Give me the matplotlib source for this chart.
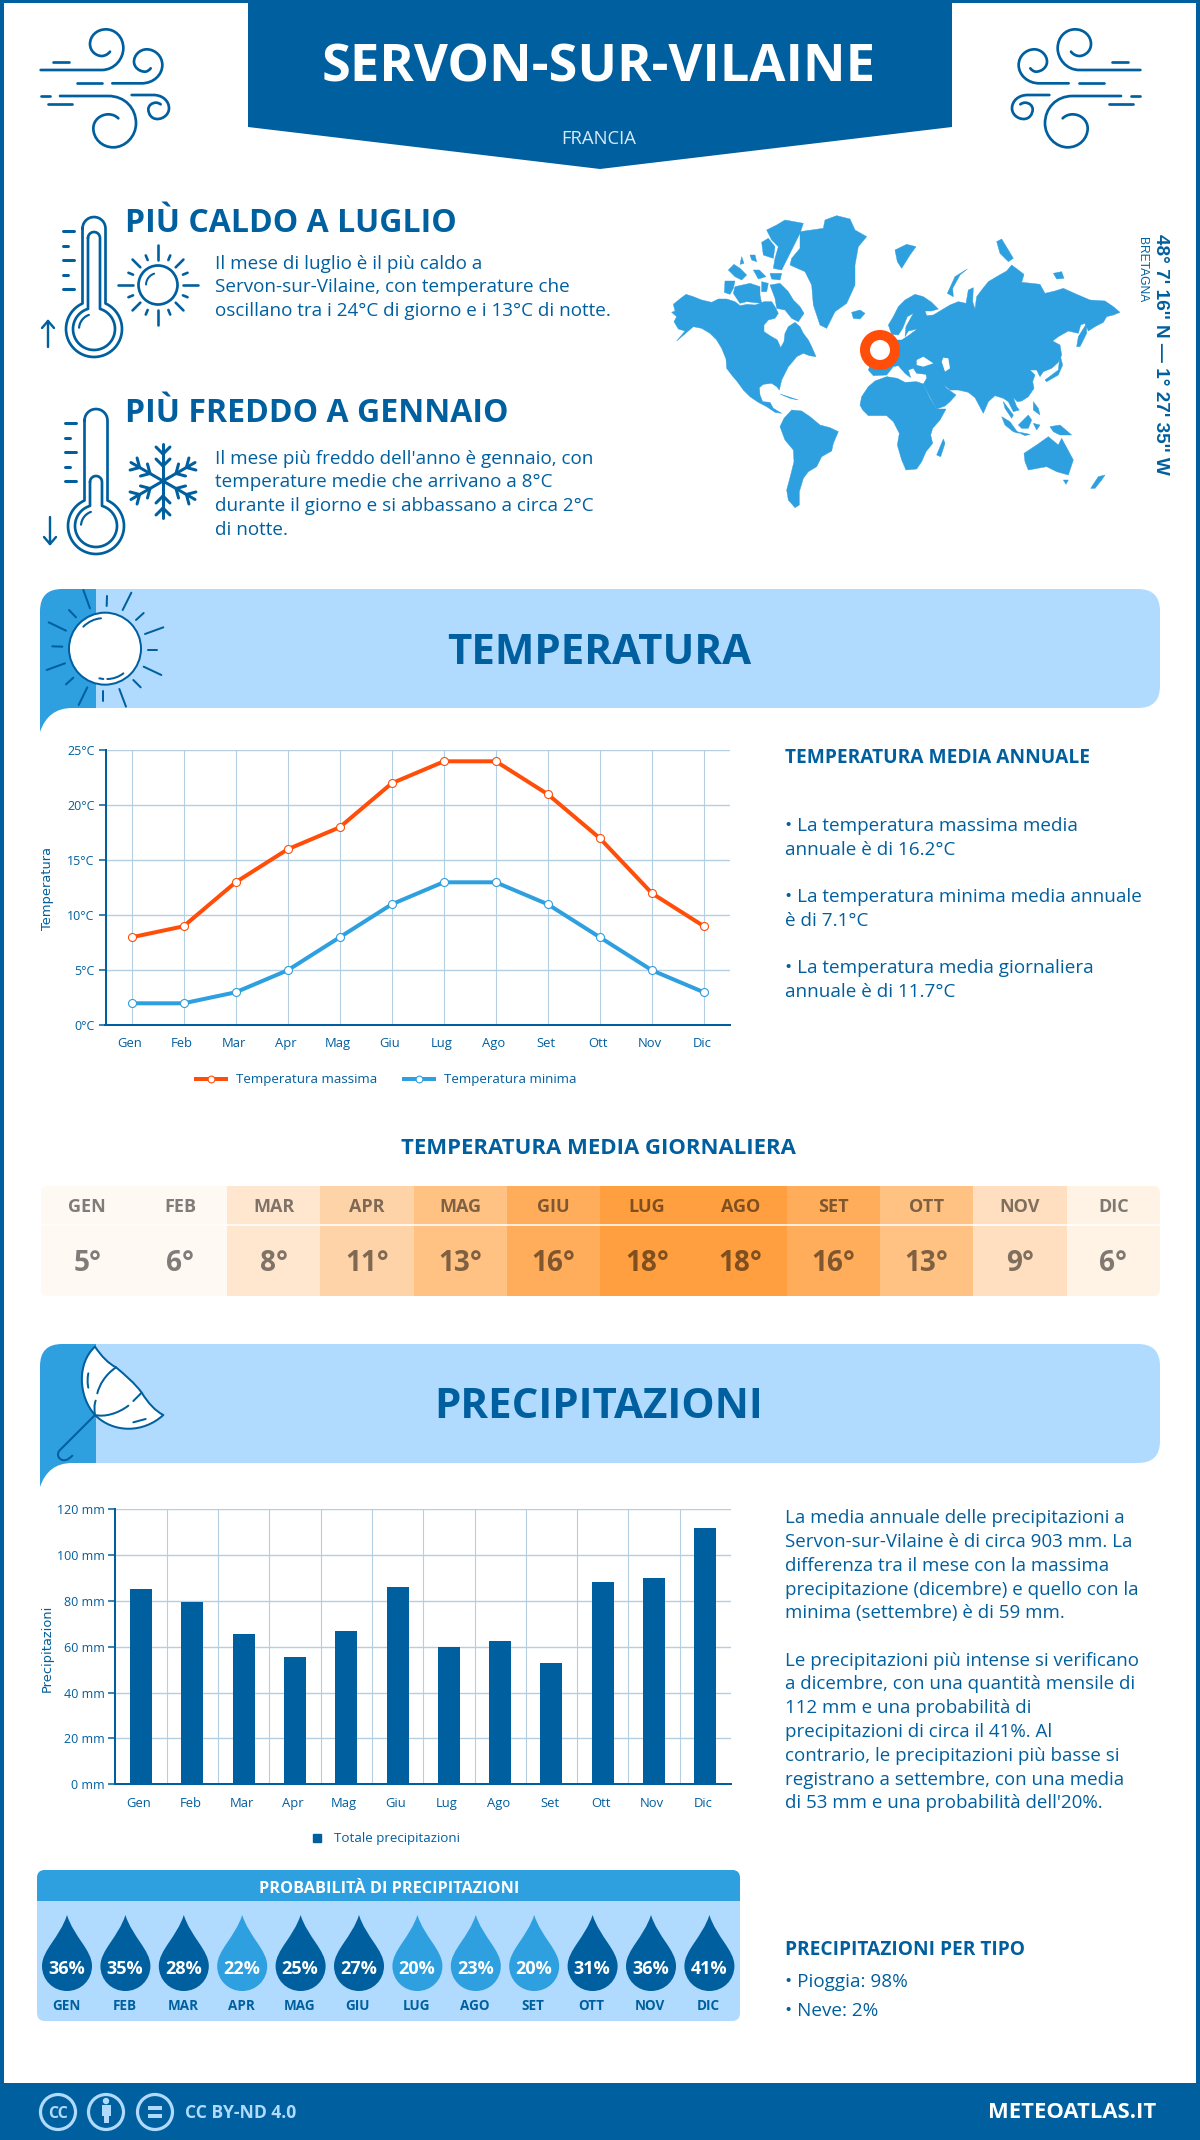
import numpy as np
import matplotlib
matplotlib.use('Agg')
import matplotlib.pyplot as plt
from matplotlib.path import Path
from matplotlib.patches import PathPatch, Rectangle, Circle, FancyBboxPatch, Polygon
from matplotlib.lines import Line2D
from matplotlib.transforms import ScaledTranslation

# ---------- data ----------
months = ['Gen', 'Feb', 'Mar', 'Apr', 'Mag', 'Giu', 'Lug', 'Ago', 'Set', 'Ott', 'Nov', 'Dic']
months_upper = ['GEN', 'FEB', 'MAR', 'APR', 'MAG', 'GIU', 'LUG', 'AGO', 'SET', 'OTT', 'NOV', 'DIC']
temp_max = [8, 9, 13, 16, 18, 22, 24, 24, 21, 17, 12, 9]
temp_min = [2, 2, 3, 5, 8, 11, 13, 13, 11, 8, 5, 3]
temp_avg = [5, 6, 8, 11, 13, 16, 18, 18, 16, 13, 9, 6]
temp_colors = ['#fff9f3', '#fff9f3', '#ffe6cf', '#ffd3a8', '#ffc283', '#ffad5b',
               '#ff9f3f', '#ff9f3f', '#ffad5b', '#ffc283', '#ffdfbf', '#fff3e6']
precip = [85.2, 79.6, 65.6, 55.6, 66.9, 86.1, 60.1, 62.5, 52.9, 88.3, 90.0, 111.9]
prob = [36, 35, 28, 22, 25, 27, 20, 23, 20, 31, 36, 41]
temp_ticks = [0, 5, 10, 15, 20, 25]
precip_ticks = [0, 20, 40, 60, 80, 100, 120]

DARK = '#005f9e'
MID = '#2e9fdf'
LIGHT = '#b0dbff'
ORANGE = '#ff4e0a'
GRID = '#b4cfe2'
FONT = 'Open Sans'
W, H = 1200, 2140

plt.rcParams['font.family'] = [FONT, 'DejaVu Sans']
fig = plt.figure(figsize=(W / 100, H / 100), dpi=100, facecolor='white')
ax0 = fig.add_axes([0, 0, 1, 1])
ax0.set_xlim(0, W)
ax0.set_ylim(H, 0)
ax0.axis('off')


def pt(px):
    return px * 0.72


def T(x, y, s, size, color=DARK, weight='normal', ha='left', va='baseline', ax=None, **kw):
    return (ax or ax0).text(x, y, s, fontsize=pt(size), color=color, fontweight=weight,
                            ha=ha, va=va, **kw)


def stroke(verts, codes=None, lw=2.7, color=DARK, fill='none', z=5):
    p = PathPatch(Path(verts, codes), facecolor=fill, edgecolor=color, lw=pt(lw),
                  capstyle='round', joinstyle='round', zorder=z)
    ax0.add_patch(p)
    return p


def seg(x1, y1, x2, y2, lw=2.7, color=DARK, z=5):
    ax0.plot([x1, x2], [y1, y2], color=color, lw=pt(lw), solid_capstyle='round', zorder=z)


def curve_path(start, curves, fx):
    v = [fx(*start)]
    c = [Path.MOVETO]
    for item in curves:
        if len(item) == 2:
            v.append(fx(*item))
            c.append(Path.LINETO)
        else:
            for i in range(3):
                v.append(fx(*item[i]))
                c.append(Path.CURVE4)
    return v, c


# ---------- frame ----------
ax0.add_patch(Rectangle((0, 0), 4, H, color=DARK, lw=0))
ax0.add_patch(Rectangle((W - 4, 0), 4, H, color=DARK, lw=0))
ax0.add_patch(Rectangle((0, 0), W, 3, color=DARK, lw=0))
ax0.add_patch(Rectangle((0, 2083), W, 57, color=DARK, lw=0))

# ---------- header ----------
ax0.add_patch(Polygon([(248, 0), (952, 0), (952, 127), (600, 169), (248, 127)], closed=True, color=DARK, lw=0))
T(599, 81, 'SERVON-SUR-VILAINE', 52.4, color='white', weight='bold', ha='center')
T(599, 144, 'FRANCIA', 18.5, color='#d6ebfa', ha='center')


def wind(mirror=False):
    if mirror:
        fx = lambda a, b: (1181 - (30 + a / 3), 20 + b / 3)
    else:
        fx = lambda a, b: (30 + a / 3, 20 + b / 3)
    segs = [((70, 125), (118, 125)), ((140, 190), (215, 190)), ((32, 228), (60, 228)), ((55, 253), (125, 253))]
    for a, b in segs:
        seg(*fx(*a), *fx(*b))
    spirals = [
        ((32, 150), [(215, 150), ((255, 150), (280, 115), (280, 85)), ((280, 50), (255, 28), (228, 28)),
                     ((200, 28), (180, 48), (180, 72)), ((180, 95), (200, 108), (215, 108)),
                     ((225, 108), (235, 102), (240, 95))]),
        ((247, 190), [(335, 190), ((370, 190), (397, 165), (397, 135)), ((397, 108), (375, 88), (350, 88)),
                      ((330, 88), (312, 105), (312, 125)), ((312, 142), (328, 155), (345, 155)),
                      ((352, 155), (358, 150), (362, 145))]),
        ((90, 228), [(235, 228), ((285, 228), (318, 265), (318, 310)), ((318, 350), (285, 382), (250, 382)),
                     ((215, 382), (190, 355), (190, 325)), ((190, 300), (212, 283), (235, 283)),
                     ((248, 283), (258, 288), (265, 295))]),
        ((305, 225), [(370, 225), ((398, 225), (417, 243), (417, 265)), ((417, 283), (400, 297), (382, 297)),
                      ((365, 297), (355, 283), (355, 268)), ((355, 257), (365, 248), (378, 248)),
                      ((383, 248), (388, 250), (392, 253))]),
    ]
    for s, cs in spirals:
        v, c = curve_path(s, cs, fx)
        stroke(v, c)


wind(False)
wind(True)


# ---------- thermometers ----------
def thermo(cx, top, by, r, hw, itop, up):
    def outline(t, h, rr):
        arc = np.linspace(0, np.pi, 16)
        cap = np.c_[cx - h * np.cos(arc), t + h - h * np.sin(arc)]
        a0 = np.arcsin(h / rr)
        ang = np.linspace(np.pi / 2 - a0, -3 * np.pi / 2 + a0, 60)
        return np.vstack([cap, np.c_[cx + rr * np.cos(ang), by - rr * np.sin(ang)]])

    pts = outline(top, hw, r)
    stroke(np.vstack([pts, pts[:1]]), lw=2.7)
    pts2 = outline(itop, hw - 5.5, r - 7)
    stroke(np.vstack([pts2, pts2[:1]]), lw=2.7)
    ang = np.linspace(np.radians(110), np.radians(175), 12)
    stroke(np.c_[cx + (r - 13) * np.cos(ang), by - (r - 13) * np.sin(ang)], lw=2.2)
    ty = np.linspace(top + 14, top + 72, 5)
    for i, y in enumerate(ty):
        seg(cx - 31, y, cx - (20 if i % 2 == 0 else 26), y, lw=3)
    ax = cx - 46
    if up:
        seg(ax, 321, ax, 347, lw=2.4)
        seg(ax - 6, 328, ax, 321, lw=2.4)
        seg(ax + 6, 328, ax, 321, lw=2.4)
    else:
        seg(ax, 517, ax, 544, lw=2.4)
        seg(ax - 6, 537, ax, 544, lw=2.4)
        seg(ax + 6, 537, ax, 544, lw=2.4)


thermo(94, 217, 329, 28, 11.5, 232, True)
thermo(96, 409, 526, 28, 11.5, 476, False)

# small sun
sc = (158, 285)
ax0.add_patch(Circle(sc, 19.5, fill=False, ec=DARK, lw=pt(2.7), zorder=5))
stroke(np.c_[sc[0] + 12 * np.cos(np.linspace(1.9, 3.1, 10)), sc[1] - 12 * np.sin(np.linspace(1.9, 3.1, 10))], lw=2)
for k in range(16):
    a = k * np.pi / 8 + np.pi / 2
    r1 = 25 if k % 2 == 0 else 27
    r2 = 40 if k % 4 == 0 else (36 if k % 2 == 0 else 32)
    seg(sc[0] + r1 * np.cos(a), sc[1] - r1 * np.sin(a), sc[0] + r2 * np.cos(a), sc[1] - r2 * np.sin(a), lw=2.6)

# snowflake
fc = (163, 481)
for k in range(6):
    a = k * np.pi / 3 + np.pi / 2
    ux, uy = np.cos(a), -np.sin(a)
    seg(fc[0], fc[1], fc[0] + 37 * ux, fc[1] + 37 * uy, lw=3)
    for d, s in ((15, 9), (27, 9)):
        for sgn in (-1, 1):
            b = a + sgn * np.pi / 4
            seg(fc[0] + d * ux, fc[1] + d * uy, fc[0] + d * ux + s * np.cos(b) * 1.1, fc[1] + d * uy - s * np.sin(b) * 1.1, lw=3)

T(125, 232, 'PIÙ CALDO A LUGLIO', 32, weight='bold')
for y, s in zip([269, 292, 316], ['Il mese di luglio è il più caldo a',
                                  'Servon-sur-Vilaine, con temperature che',
                                  'oscillano tra i 24°C di giorno e i 13°C di notte.']):
    T(215, y, s, 18.85)
T(125, 422, 'PIÙ FREDDO A GENNAIO', 32, weight='bold')
for y, s in zip([464, 487, 511, 535], ["Il mese più freddo dell'anno è gennaio, con",
                                       'temperature medie che arrivano a 8°C',
                                       'durante il giorno e si abbassano a circa 2°C',
                                       'di notte.']):
    T(215, y, s, 18.85)

# ---------- world map (outline sketch) ----------
land = [
    [(35,322),(45,318),(40,298),(62,280),(78,268),(100,275),(125,285),(155,292),(175,282),(200,282),(225,290),(240,302),(262,298),(285,300),(300,295),(312,290),(335,290),(345,305),(355,325),(345,340),(325,345),(312,360),(312,380),(330,392),(352,405),(362,428),(372,410),(375,385),(385,365),(405,352),(420,365),(430,385),(445,405),(455,425),(468,455),(448,452),(430,445),(410,455),(398,470),(385,485),(375,505),(365,525),(358,555),(350,545),(335,535),(310,538),(298,548),(300,570),(308,590),(330,592),(340,610),(365,625),(345,622),(320,605),(295,592),(270,575),(250,555),(232,530),(215,510),(200,490),(198,462),(185,430),(170,405),(150,385),(125,370),(100,365),(85,378),(50,408),(65,390),(75,378),(55,372),(42,350),(50,335)],
    [(330,240),(360,235),(385,260),(400,285),(420,305),(432,325),(415,350),(395,340),(375,315),(350,310),(345,280)],
    [(225,245),(270,235),(300,245),(300,270),(305,295),(260,290),(240,295),(220,265)],
    [(195,228),(225,228),(220,250),(210,268),(193,262)],
    [(205,195),(222,178),(240,190),(260,210),(245,225),(225,215)],
    [(280,195),(298,195),(318,215),(295,222)],
    [(305,230),(325,235),(320,260),(305,260)],
    [(330,205),(365,205),(360,225),(335,222)],
    [(320,75),(350,60),(375,45),(430,55),(420,85),(400,125),(380,165),(365,195),(340,190),(345,160),(355,125),(335,105)],
    [(305,112),(325,100),(345,125),(340,160),(310,150)],
    [(270,150),(285,150),(290,170),(275,165)],
    [(245,155),(252,175),(240,178)],
    [(420,80),(490,70),(495,45),(530,32),(570,42),(585,75),(620,95),(595,125),(585,180),(585,240),(560,295),(525,320),(500,370),(480,360),(460,300),(455,240),(435,200),(390,180),(395,160),(420,130)],
    [(575,322),(600,315),(615,325),(600,342),(580,340)],
    [(705,135),(740,118),(768,125),(750,150),(725,190),(712,170)],
    [(862,265),(885,215),(922,192),(900,210),(878,250),(880,275)],
    [(1010,110),(1025,102),(1045,135),(1060,160),(1045,170),(1020,145)],
    [(1180,205),(1205,200),(1212,220),(1190,222)],
    [(685,360),(700,335),(715,305),(735,285),(765,268),(790,275),(815,292),(835,312),(815,318),(795,318),(800,332),(820,330),(845,315),(870,300),(895,290),(918,295),(925,255),(940,248),(938,290),(945,312),(950,275),(965,255),(985,230),(1010,215),(1040,198),(1055,180),(1075,195),(1092,208),(1085,232),(1115,235),(1140,238),(1155,265),(1185,258),(1210,250),(1250,268),(1290,285),(1335,288),(1360,305),(1380,322),(1360,330),(1340,335),(1330,352),(1305,365),(1285,378),(1275,355),(1262,360),(1255,385),(1225,378),(1195,395),(1178,408),(1200,420),(1205,450),(1195,472),(1175,490),(1150,500),(1140,515),(1130,495),(1110,495),(1125,510),(1118,530),(1122,550),(1105,575),(1085,588),(1072,590),(1060,578),(1070,605),(1078,615),(1060,620),(1045,590),(1030,580),(1005,572),(985,590),(970,625),(962,610),(945,578),(925,562),(895,555),(870,555),(850,538),(860,550),(888,570),(870,590),(855,603),(830,612),(812,580),(790,537),(800,520),(798,508),(770,505),(760,490),(745,495),(752,518),(735,505),(715,482),(700,485),(680,510),(640,512),(625,495),(645,445),(680,405),(725,405),(745,392),(772,372),(745,378),(735,395),(738,365),(760,325),(742,335),(728,370),(715,390),(695,388)],
    [(1155,525),(1195,495),(1200,450),(1208,480),(1195,510),(1160,530)],
    [(1250,425),(1255,395),(1280,355),(1280,385),(1260,425)],
    [(600,600),(605,575),(625,545),(645,528),(680,515),(712,520),(735,532),(770,530),(790,537),(810,580),(830,612),(858,612),(840,645),(818,670),(812,690),(818,715),(798,740),(785,770),(770,792),(738,795),(725,765),(712,720),(718,685),(700,650),(680,632),(650,632),(625,632),(608,615)],
    [(830,750),(850,702),(855,715),(842,755)],
    [(360,665),(372,640),(395,615),(425,618),(450,635),(480,660),(510,668),(535,680),(520,715),(515,738),(485,755),(470,785),(445,800),(430,820),(418,860),(418,900),(405,908),(385,885),(380,855),(392,810),(402,770),(400,735),(375,705)],
    [(1092,745),(1130,720),(1165,695),(1195,720),(1205,700),(1240,765),(1225,810),(1190,800),(1160,785),(1105,795),(1095,770)],
    [(1210,825),(1225,825),(1218,838)],
    [(1292,850),(1315,815),(1335,810),(1325,825),(1305,850)],
    [(1170,665),(1200,660),(1235,690),(1200,690),(1180,680)],
    [(1075,660),(1105,630),(1115,645),(1105,670),(1085,670)],
    [(1025,635),(1050,650),(1075,685),(1060,680),(1035,660)],
    [(1070,680),(1110,688),(1095,692)],
    [(1120,655),(1140,660),(1130,675)],
    [(1120,590),(1135,610),(1140,630),(1120,615)],
    [(1030,590),(1060,630),(1055,640),(1035,610)],
    [(360,567),(415,585),(390,580)],
]
seas = [[(850,458),(865,460),(870,490),(855,500),(845,470)],
        [(770,465),(790,455),(820,475),(790,485),(770,480)]]
mp = lambda a, b: (660 + a / 3, 205 + b / 3)
for poly in land:
    ax0.add_patch(Polygon([mp(*q) for q in poly], closed=True, color=MID, lw=0.3, zorder=2))
for poly in seas:
    ax0.add_patch(Polygon([mp(*q) for q in poly], closed=True, color='white', lw=0, zorder=2))
ax0.add_patch(Circle((880, 350), 15, fill=True, fc='white', ec=ORANGE, lw=pt(10), zorder=3))

T(1161, 354, "48° 7' 16'' N — 1° 27' 35'' W", 19, weight='bold', rotation=270, ha='center', va='center',
  family=['Liberation Sans', 'DejaVu Sans'])
T(1141.5, 270, 'BRETAGNA', 12, rotation=270, ha='center', va='center', family=['Liberation Sans', 'DejaVu Sans'])


# ---------- section banners ----------
def banner(top, bot, title, size):
    r = 22
    v = [(96, top), (1160 - r, top), (1160, top), (1160, top + r), (1160, bot - r), (1160, bot), (1160 - r, bot), (96, bot), (96, top)]
    c = [Path.MOVETO, Path.LINETO, Path.CURVE3, Path.CURVE3, Path.LINETO, Path.CURVE3, Path.CURVE3, Path.LINETO, Path.CLOSEPOLY]
    ax0.add_patch(PathPatch(Path(v, c), fc=LIGHT, ec='none', zorder=2))
    v = [(96, top), (62, top), (40, top), (40, top + 22), (40, bot + 24), (48, bot), (72, bot), (96, bot), (96, top)]
    c = [Path.MOVETO, Path.LINETO, Path.CURVE3, Path.CURVE3, Path.LINETO, Path.CURVE3, Path.CURVE3, Path.LINETO, Path.CLOSEPOLY]
    ax0.add_patch(PathPatch(Path(v, c), fc=MID, ec='none', zorder=2))
    T(599, (top + bot) / 2 + 15, title, size, weight='bold', ha='center', zorder=4)


banner(589, 708, 'TEMPERATURA', 42)
banner(1344, 1463, 'PRECIPITAZIONI', 42)

# big sun
bs = lambda a, b: (a / 3, 570 + b / 3)
ax0.add_patch(Circle(bs(315, 236), 36, fc='white', ec=DARK, lw=pt(2), zorder=5))
rays = [((250,60),(270,115)),((207,120),(228,142)),((146,157),(198,182)),((157,229),(187,230)),
        ((140,300),(195,280)),((198,343),(220,323)),((236,405),(262,352)),((308,362),(308,393)),
        ((358,357),(378,410)),((400,330),(422,352)),((431,290),(484,315)),((443,241),(472,241)),
        ((435,192),(490,172)),((408,150),(431,129)),((368,120),(394,68)),((320,108),(321,78)),
        ((298,325),(310,327))]
for a, b in rays:
    seg(*bs(*a), *bs(*b), lw=2, z=6)
v, c = curve_path((250, 170), [((265, 155), (285, 146), (303, 145))], bs)
stroke(v, c, lw=2, z=6)
v, c = curve_path((322, 327), [((340, 327), (358, 320), (370, 310))], bs)
stroke(v, c, lw=2, z=6)

# umbrella
um = lambda a, b: (30 + a / 3, 1340 + b / 3)
v, c = curve_path((195, 20), [((215, 50), (235, 70), (258, 82)), ((285, 105), (315, 130), (335, 158)),
                              ((355, 190), (375, 212), (400, 225)), ((340, 280), (250, 280), (195, 225)),
                              ((145, 170), (140, 70), (195, 20))], um)
stroke(v, c, lw=2, fill='white', z=5)
for s, cs in [((195, 225), [(90, 330), ((75, 345), (90, 365), (108, 360)), ((115, 358), (122, 352), (127, 347))]),
              ((258, 82), [((225, 105), (208, 135), (202, 160))]),
              ((197, 182), [((192, 195), (193, 210), (195, 225))]),
              ((195, 225), [((225, 232), (265, 220), (295, 197))]),
              ((310, 183), [(335, 158)]),
              ((175, 100), [((172, 115), (172, 130), (175, 143))]),
              ((310, 247), [(347, 237)])]:
    v, c = curve_path(s, cs, um)
    stroke(v, c, lw=2, z=6)


# ---------- chart helpers ----------
def make_axes(l, r, t, b):
    return fig.add_axes([l / W, 1 - b / H, (r - l) / W, (b - t) / H], zorder=3, facecolor='none')


def style_axes(ax, xpad):
    for s in ('top', 'right'):
        ax.spines[s].set_visible(False)
    for s in ('left', 'bottom'):
        ax.spines[s].set_color(DARK)
        ax.spines[s].set_linewidth(pt(2))
    ax.tick_params(axis='y', length=pt(7), width=pt(1.5), color=DARK, labelcolor=DARK,
                   labelsize=pt(12.5), pad=pt(4))
    ax.tick_params(axis='x', which='major', length=0, labelcolor=DARK, labelsize=pt(13), pad=pt(xpad))
    ax.tick_params(axis='x', which='minor', length=0)
    ax.grid(axis='y', color=GRID, lw=pt(1.4), zorder=0)
    ax.set_axisbelow(True)


def shift_labels(ax, dx):
    off = ScaledTranslation(dx / 100, 0, fig.dpi_scale_trans)
    for lb in ax.get_xticklabels():
        lb.set_transform(lb.get_transform() + off)


# ---------- temperature chart ----------
ax1 = make_axes(105.5, 730, 750.3, 1025.3)
x = np.arange(len(months))
ax1.set_xlim(-0.5, 11.5)
ax1.set_ylim(0, 25)
style_axes(ax1, 12)
ax1.set_xticks(x)
ax1.set_xticklabels(months)
ax1.set_yticks(temp_ticks)
ax1.set_yticklabels([f'{v}°C' for v in temp_ticks])
ax1.grid(axis='x', color=GRID, lw=pt(1.1), zorder=0)
mk = dict(marker='o', markersize=pt(8), markerfacecolor='white', markeredgewidth=pt(1.1), clip_on=False, lw=pt(4))
ax1.plot(x, temp_max, color=ORANGE, label='Temperatura massima', zorder=4, **mk)
ax1.plot(x, temp_min, color=MID, label='Temperatura minima', zorder=4, **mk)
shift_labels(ax1, -2)
fig.text(47 / W, 1 - 888 / H, 'Temperatura', rotation=90, ha='center', va='center', fontsize=pt(13),
         color=DARK, family=['DejaVu Sans'])
ax1.legend(loc='center', bbox_to_anchor=(386 / W, 1 - 1080 / H), bbox_transform=fig.transFigure, ncol=2,
           frameon=False, prop={'size': pt(13.4), 'family': FONT}, labelcolor=DARK, handlelength=2.25,
           handletextpad=0.75, columnspacing=2.0, markerscale=0.85)

T(785, 763, 'TEMPERATURA MEDIA ANNUALE', 19.1, weight='bold')
for y, s in zip([831, 855, 902, 926, 973, 997],
                ['• La temperatura massima media', 'annuale è di 16.2°C',
                 '• La temperatura minima media annuale', 'è di 7.1°C',
                 '• La temperatura media giornaliera', 'annuale è di 11.7°C']):
    T(785, y, s, 18.85)

# ---------- daily mean heat strip ----------
T(598, 1154, 'TEMPERATURA MEDIA GIORNALIERA', 22.2, weight='bold', ha='center')
ax_h = make_axes(40.5, 1160, 1186, 1296)
ax_h.set_xlim(-0.5, 11.5)
ax_h.set_ylim(110, 0)
ax_h.axis('off')
clip = FancyBboxPatch((40.5, 1186), 1119.5, 110, boxstyle='round,pad=0,rounding_size=7', transform=ax0.transData)
bars = ax_h.bar(x, [110] * 12, width=1.0, bottom=0, color=temp_colors, lw=0)
for b in bars:
    b.set_clip_path(clip)
ax_h.axhline(39, color='white', lw=pt(1.6))
for i, (m, t) in enumerate(zip(months_upper, temp_avg)):
    T(i, 26.5, m, 18, color='black', weight='bold', ha='center', ax=ax_h, alpha=0.5)
    T(i, 85, f'{t}°', 28, color='black', weight='bold', ha='center', ax=ax_h, alpha=0.5)

# ---------- precipitation chart ----------
ax2 = make_axes(115.4, 731, 1509.3, 1784.3)
ax2.set_xlim(-0.5, 11.5)
ax2.set_ylim(0, 120)
style_axes(ax2, 13)
ax2.set_xticks(x)
ax2.set_xticklabels(months)
ax2.set_xticks(x[:-1] + 0.5, minor=True)
ax2.grid(axis='x', which='minor', color=GRID, lw=pt(1.1), zorder=0)
ax2.set_yticks(precip_ticks)
ax2.set_yticklabels([f'{v} mm' for v in precip_ticks])
ax2.bar(x, precip, width=0.43, color=DARK, zorder=3)
shift_labels(ax2, -2)
fig.text(47 / W, 1 - 1648 / H, 'Precipitazioni', rotation=90, ha='center', va='center', fontsize=pt(13),
         color=DARK, family=['DejaVu Sans'])
ax2.legend(handles=[Line2D([], [], linestyle='none', marker='s', markersize=pt(8), color=DARK,
                           label='Totale precipitazioni')],
           loc='center', bbox_to_anchor=(382 / W, 1 - 1838.7 / H), bbox_transform=fig.transFigure,
           frameon=False, prop={'size': pt(13.4), 'family': FONT}, labelcolor=DARK, handletextpad=0.3)

lines_p = [(1523, 'La media annuale delle precipitazioni a'),
           (1547, 'Servon-sur-Vilaine è di circa 903 mm. La'),
           (1571, 'differenza tra il mese con la massima'),
           (1595, 'precipitazione (dicembre) e quello con la'),
           (1618, 'minima (settembre) è di 59 mm.'),
           (1666, 'Le precipitazioni più intense si verificano'),
           (1689, 'a dicembre, con una quantità mensile di'),
           (1713, '112 mm e una probabilità di'),
           (1737, 'precipitazioni di circa il 41%. Al'),
           (1761, 'contrario, le precipitazioni più basse si'),
           (1785, 'registrano a settembre, con una media'),
           (1808, "di 53 mm e una probabilità dell'20%.")]
for y, s in lines_p:
    T(785, y, s, 18.75)
T(785, 1955, 'PRECIPITAZIONI PER TIPO', 19.1, weight='bold')
T(785, 1987, '• Pioggia: 98%', 18.85)
T(785, 2016, '• Neve: 2%', 18.85)

# ---------- probability panel ----------
ax0.add_patch(FancyBboxPatch((37, 1870), 703, 151, boxstyle='round,pad=0,rounding_size=8', fc=LIGHT, ec='none', zorder=2))
hdr = FancyBboxPatch((37, 1870), 703, 151, boxstyle='round,pad=0,rounding_size=8', fc='none', ec='none',
                     transform=ax0.transData)
ax0.add_patch(hdr)
head = Rectangle((37, 1870), 703, 31, fc=MID, ec='none', zorder=3)
ax0.add_patch(head)
head.set_clip_path(hdr)
T(389, 1893, 'PROBABILITÀ DI PRECIPITAZIONI', 16.3, color='white', weight='bold', ha='center', zorder=5)
for i, (p, m) in enumerate(zip(prob, months_upper)):
    cx = 67 + i * 58.4
    col = DARK if p >= 25 else MID
    v = [(cx, 1915), (cx + 7, 1937), (cx + 25, 1950), (cx + 25, 1966), (cx + 25, 1980), (cx + 14, 1991), (cx, 1991),
         (cx - 14, 1991), (cx - 25, 1980), (cx - 25, 1966), (cx - 25, 1950), (cx - 7, 1937), (cx, 1915)]
    c = [Path.MOVETO] + [Path.CURVE4] * 12
    ax0.add_patch(PathPatch(Path(v, c), fc=col, ec='none', zorder=4))
    T(cx - 0.5, 1974, f'{p}%', 18, color='white', weight='bold', ha='center', zorder=5)
    T(cx - 1, 2010.5, m, 13.5, weight='bold', ha='center', zorder=5)

# ---------- footer ----------
for cx in (58, 106, 155):
    ax0.add_patch(Circle((cx, 2112), 17.5, fc='none', ec=LIGHT, lw=pt(3.2), zorder=5))
T(58, 2112, 'CC', 16, color=LIGHT, weight='bold', ha='center', va='center_baseline', zorder=6)
ax0.add_patch(Circle((106, 2101), 3.2, fc=LIGHT, ec='none', zorder=6))
ax0.add_patch(Rectangle((101.5, 2105), 9, 11, fc=LIGHT, ec='none', zorder=6))
ax0.add_patch(Rectangle((103.5, 2114), 5, 9, fc=LIGHT, ec='none', zorder=6))
ax0.add_patch(Rectangle((148, 2106), 14, 3.5, fc=LIGHT, ec='none', zorder=6))
ax0.add_patch(Rectangle((148, 2114), 14, 3.5, fc=LIGHT, ec='none', zorder=6))
T(185, 2118, 'CC BY-ND 4.0', 17.5, color=LIGHT, weight='bold', zorder=6)
T(1156, 2118, 'METEOATLAS.IT', 22, color='white', weight='bold', ha='right', zorder=6)

fig.savefig('out.png', dpi=100, facecolor='white')
